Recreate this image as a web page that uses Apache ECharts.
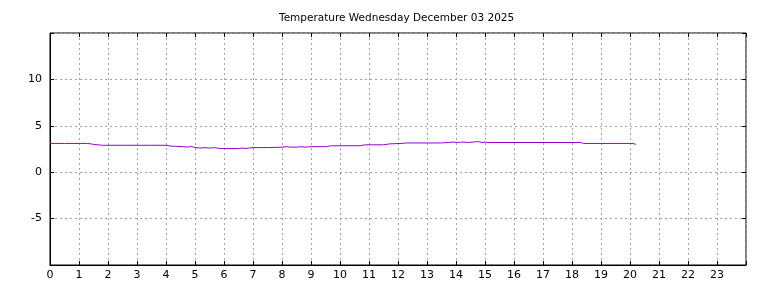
<!DOCTYPE html>
<html>
<head>
<meta charset="utf-8">
<script src="https://cdn.jsdelivr.net/npm/echarts@6/dist/echarts.min.js"></script>
<style>
  html, body { margin: 0; padding: 0; background: #fff; }
  #chart { width: 768px; height: 288px; }
</style>
</head>
<body>
<div id="chart"></div>
<script>
const title = "Temperature Wednesday December 03 2025"

// hour of day, temperature in degC
const hours = [
  0.0, 0.5, 1.0, 1.3, 1.5, 1.8, 2.5, 3.0, 3.5, 4.0, 4.2, 4.3, 4.6, 4.75, 4.85,
  5.0, 5.2, 5.35, 5.5, 5.7, 5.85, 6.0, 6.5, 6.6, 6.75, 6.85, 7.0, 7.5, 8.0,
  8.15, 8.3, 8.5, 8.65, 8.8, 9.0, 9.5, 9.7, 10.0, 10.7, 10.85, 11.5, 11.7,
  12.1, 12.3, 13.0, 13.5, 13.75, 13.9, 14.05, 14.2, 14.4, 14.6, 14.75, 14.9,
  15.0, 15.1, 16.0, 17.0, 18.0, 18.3, 18.4, 19.0, 20.0, 20.1, 20.2
]
const temps = [
  3.1, 3.1, 3.1, 3.1, 3.0, 2.9, 2.9, 2.9, 2.9, 2.9, 2.8, 2.8, 2.75, 2.7, 2.8,
  2.65, 2.6, 2.65, 2.6, 2.65, 2.55, 2.55, 2.55, 2.6, 2.55, 2.6, 2.65, 2.65, 2.7,
  2.75, 2.7, 2.7, 2.75, 2.7, 2.75, 2.75, 2.85, 2.85, 2.85, 2.95, 2.95, 3.05,
  3.1, 3.15, 3.15, 3.15, 3.2, 3.25, 3.2, 3.25, 3.2, 3.25, 3.3, 3.2,
  3.25, 3.2, 3.2, 3.2, 3.2, 3.2, 3.1, 3.1, 3.1, 3.1, 3.0
]

const xMin = 0, xMax = 24
const yMin = -10, yMax = 15, yStep = 5

const chart = echarts.init(document.getElementById("chart"))

const font = "DejaVu Sans"
const splitStyle = { show: true, lineStyle: { color: "#a0a0a0", type: [2, 3], width: 1 } }
const tick = { show: true, inside: true, length: 4, lineStyle: { color: "#000" } }

const option = {
  animation: false,
  textStyle: { fontFamily: font },
  title: {
    text: title,
    left: 274,
    top: 8,
    textStyle: { fontSize: 10.5, fontWeight: "normal", color: "#000", fontFamily: font },
  },
  grid: {
    left: 50,
    right: 22,
    top: 33,
    bottom: 23,
    show: true,
    borderColor: "#000",
    borderWidth: 1,
  },
  xAxis: [
    {
      type: "value",
      min: xMin,
      max: xMax,
      interval: 1,
      axisLine: { show: true, onZero: false, lineStyle: { color: "#000" } },
      axisTick: tick,
      axisLabel: {
        color: "#000",
        fontSize: 11,
        margin: 5,
        formatter: v => (v >= xMax ? "" : String(v)),
      },
      splitLine: splitStyle,
    },
    {
      type: "value",
      position: "top",
      min: xMin,
      max: xMax,
      interval: 1,
      axisLine: { show: false, onZero: false },
      axisTick: tick,
      axisLabel: { show: false },
      splitLine: { show: false },
    },
  ],
  yAxis: [
    {
      type: "value",
      min: yMin,
      max: yMax,
      interval: yStep,
      axisLine: { show: true, onZero: false, lineStyle: { color: "#000" } },
      axisTick: tick,
      axisLabel: {
        color: "#000",
        fontSize: 11,
        margin: 8,
        formatter: v => (v <= yMin || v >= yMax ? "" : String(v)),
      },
      splitLine: splitStyle,
    },
    {
      type: "value",
      position: "right",
      min: yMin,
      max: yMax,
      interval: yStep,
      axisLine: { show: false, onZero: false },
      axisTick: tick,
      axisLabel: { show: false },
      splitLine: { show: false },
    },
  ],
  series: [
    {
      name: "Temperature",
      type: "line",
      data: hours.map((h, i) => [h, temps[i]]),
      showSymbol: false,
      lineStyle: { color: "#9400d3", width: 1 },
      itemStyle: { color: "#9400d3" },
    },
  ],
}

chart.setOption(option)
</script>
</body>
</html>
